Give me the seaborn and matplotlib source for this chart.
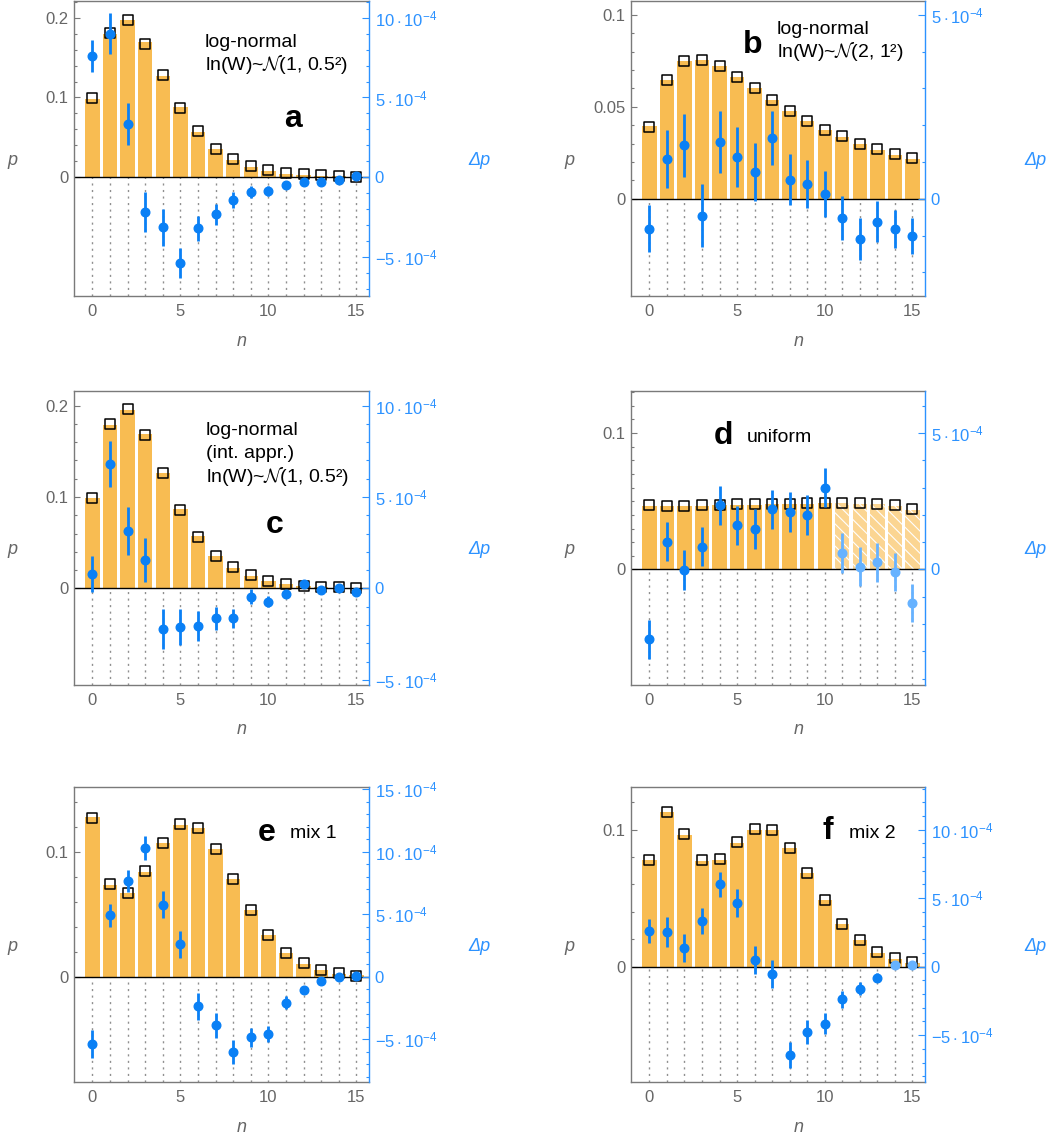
import numpy as np
import pandas as pd
import matplotlib
matplotlib.use("Agg")
import matplotlib.pyplot as plt
from matplotlib.ticker import FixedLocator, FuncFormatter, MultipleLocator
import seaborn as sns

# ---------------------------------------------------------------- data
n = np.arange(16)

# (a) log-normal ln(W) ~ N(1, 0.5^2)
p_a = [0.098, 0.180, 0.197, 0.169, 0.127, 0.0875, 0.0567, 0.035, 0.022, 0.013,
       0.008, 0.0046, 0.0025, 0.0017, 0.001, 0.0005]
model_a = [0.0996, 0.1808, 0.1975, 0.1675, 0.1283, 0.0867, 0.0579, 0.035, 0.0225,
           0.0142, 0.0088, 0.0054, 0.0038, 0.0025, 0.0017, 0.0004]
dp_a = [7.6, 9.0, 3.35, -2.17, -3.15, -5.4, -3.2, -2.33, -1.4, -0.92, -0.85,
        -0.5, -0.33, -0.33, -0.15, 0.08]
err_a = [1.0, 1.3, 1.3, 1.25, 1.15, 0.95, 0.77, 0.67, 0.5, 0.38, 0.3, 0.2,
         0.12, 0.1, 0.08, 0.06]

# (b) log-normal ln(W) ~ N(2, 1^2)
p_b = [0.0395, 0.0644, 0.0747, 0.0753, 0.0722, 0.0662, 0.060, 0.0535, 0.0476,
       0.0422, 0.0376, 0.0336, 0.030, 0.0267, 0.024, 0.0216]
model_b = [0.0391, 0.0644, 0.0747, 0.0756, 0.0725, 0.0665, 0.060, 0.0536, 0.0476,
           0.0422, 0.0376, 0.034, 0.030, 0.0271, 0.0244, 0.022]
dp_b = [-0.82, 1.08, 1.45, -0.46, 1.54, 1.14, 0.73, 1.65, 0.52, 0.4, 0.13,
        -0.53, -1.09, -0.62, -0.82, -1.01]
err_b = [0.64, 0.8, 0.86, 0.86, 0.85, 0.82, 0.78, 0.74, 0.7, 0.66, 0.63, 0.6,
         0.57, 0.55, 0.52, 0.5]

# (c) log-normal, integral approximation
p_c = [0.099, 0.1785, 0.1956, 0.169, 0.126, 0.087, 0.057, 0.0357, 0.0226, 0.0138,
       0.0084, 0.0047, 0.0026, 0.0018, 0.001, 0.0005]
model_c = [0.0991, 0.1796, 0.1967, 0.1683, 0.1268, 0.0863, 0.0565, 0.0357, 0.0237,
           0.0146, 0.0084, 0.0047, 0.0026, 0.0018, 0.0011, 0.0004]
dp_c = [0.78, 6.8, 3.15, 1.55, -2.2, -2.1, -2.05, -1.64, -1.64, -0.45, -0.73,
        -0.33, 0.27, -0.09, 0.05, -0.18]
err_c = [1.0, 1.27, 1.3, 1.22, 1.1, 1.0, 0.8, 0.65, 0.52, 0.4, 0.3, 0.2, 0.12,
         0.1, 0.08, 0.06]

# (d) uniform
p_d = [0.0468, 0.0465, 0.0466, 0.0468, 0.0471, 0.0473, 0.0474, 0.0477, 0.048,
       0.0482, 0.0486, 0.0484, 0.0483, 0.0479, 0.0467, 0.0439]
model_d = [0.0471, 0.0468, 0.0468, 0.0471, 0.0473, 0.0476, 0.0476, 0.048, 0.0483,
           0.0485, 0.049, 0.0488, 0.0488, 0.0483, 0.0471, 0.0444]
dp_d = [-2.56, 1.02, -0.02, 0.83, 2.35, 1.62, 1.48, 2.2, 2.11, 1.99, 2.99, 0.61,
        0.1, 0.26, -0.09, -1.24]
err_d = [0.72, 0.72, 0.72, 0.72, 0.72, 0.72, 0.72, 0.72, 0.72, 0.72, 0.71, 0.73,
         0.72, 0.72, 0.7, 0.7]

# (e) mix 1
p_e = [0.1277, 0.0736, 0.0669, 0.0837, 0.107, 0.1216, 0.119, 0.1024, 0.0779,
       0.0531, 0.0331, 0.0189, 0.0099, 0.0051, 0.0024, 0.001]
model_e = [0.1269, 0.0741, 0.0669, 0.0843, 0.1072, 0.1219, 0.1192, 0.1024, 0.0779,
           0.0533, 0.0333, 0.0192, 0.0107, 0.0056, 0.0029, 0.0008]
dp_e = [-5.41, 4.9, 7.65, 10.3, 5.76, 2.59, -2.35, -3.89, -6.03, -4.83, -4.61,
        -2.08, -1.09, -0.35, -0.03, 0.03]
err_e = [1.13, 0.9, 0.87, 0.96, 1.07, 1.1, 1.08, 1.0, 0.93, 0.76, 0.64, 0.5, 0.3,
         0.2, 0.1, 0.08]

# (f) mix 2
p_f = [0.0781, 0.1129, 0.0959, 0.0771, 0.0781, 0.0903, 0.1, 0.0995, 0.0869,
       0.0684, 0.0484, 0.0314, 0.0192, 0.01, 0.0056, 0.0029]
model_f = [0.0781, 0.1129, 0.0966, 0.0776, 0.0788, 0.0908, 0.1005, 0.0995, 0.0866,
           0.0684, 0.0484, 0.0314, 0.0192, 0.0105, 0.0063, 0.0034]
dp_f = [2.6, 2.53, 1.36, 3.33, 6.0, 4.65, 0.46, -0.56, -6.47, -4.77, -4.16,
        -2.38, -1.6, -0.8, 0.1, 0.1]
err_f = [0.89, 1.07, 1.0, 0.92, 0.92, 1.0, 1.03, 1.03, 0.95, 0.88, 0.76, 0.63,
         0.5, 0.3, 0.15, 0.1]

# ---------------------------------------------------------------- style
sns.set_style("white")
plt.rcParams["font.family"] = ["Liberation Sans", "DejaVu Sans"]
plt.rcParams["mathtext.fontset"] = "custom"
plt.rcParams["mathtext.rm"] = "Liberation Sans"
plt.rcParams["mathtext.it"] = "Liberation Sans:italic"
plt.rcParams["mathtext.bf"] = "Liberation Sans:bold"
plt.rcParams["hatch.color"] = "white"
plt.rcParams["hatch.linewidth"] = 0.8

ORANGE = "#F8BC52"
ORANGE_LIGHT = "#FBD592"
BLUE = "#0A80F5"
BLUE_LIGHT = "#66B2FF"
AXBLUE = "#2C92FF"
GREY = "#666666"
SPINE = "#7a7a7a"

W, H = 1049, 1139
fig = plt.figure(figsize=(W / 100, H / 100), dpi=100)


def fx(x):
    return x / W


def fy(y):
    return 1 - y / H


def dp_label(v, pos):
    if abs(v) < 1e-9:
        return "0"
    return r"$%d\cdot10^{-4}$" % int(round(v))


panels = [
    dict(key="a", rect=(74, 1, 295, 295), p=p_a, m=model_a, dp=dp_a, err=err_a,
         ylim=(-0.149, 0.221), k=50, lt=[0, 0.1, 0.2], lmin=0.02, rt=[-5, 0, 5, 10],
         light_pts=[], hatched=[]),
    dict(key="b", rect=(631, 1, 294, 295), p=p_b, m=model_b, dp=dp_b, err=err_b,
         ylim=(-0.0529, 0.1076), k=50, lt=[0, 0.05, 0.1], lmin=0.01, rt=[0, 5],
         light_pts=[], hatched=[]),
    dict(key="c", rect=(74, 391, 295, 294), p=p_c, m=model_c, dp=dp_c, err=err_c,
         ylim=(-0.1056, 0.216), k=50, lt=[0, 0.1, 0.2], lmin=0.02, rt=[-5, 0, 5, 10],
         light_pts=[], hatched=[]),
    dict(key="d", rect=(631, 391, 294, 294), p=p_d, m=model_d, dp=dp_d, err=err_d,
         ylim=(-0.0846, 0.1307), k=50, lt=[0, 0.1], lmin=0.01, rt=[0, 5],
         light_pts=[11, 12, 13, 14, 15], hatched=[11, 12, 13, 14, 15]),
    dict(key="e", rect=(74, 787, 295, 295), p=p_e, m=model_e, dp=dp_e, err=err_e,
         ylim=(-0.0843, 0.1517), k=100, lt=[0, 0.1], lmin=0.02, rt=[-5, 0, 5, 10, 15],
         light_pts=[], hatched=[]),
    dict(key="f", rect=(631, 787, 294, 295), p=p_f, m=model_f, dp=dp_f, err=err_f,
         ylim=(-0.0842, 0.1311), k=100, lt=[0, 0.1], lmin=0.02, rt=[-5, 0, 5, 10],
         light_pts=[14, 15], hatched=[]),
]

XLIM = (-1.05, 15.72)

for P in panels:
    l, t, w, h = P["rect"]
    ax = fig.add_axes([fx(l), fy(t + h), w / W, h / H])
    df = pd.DataFrame({"n": n, "p": P["p"], "model": P["m"], "dp": P["dp"], "err": P["err"]})
    hatched = df["n"].isin(P["hatched"])

    # histogram bars
    sns.barplot(data=df[~hatched], x="n", y="p", native_scale=True, width=0.82,
                color=ORANGE, saturation=1, edgecolor="none", linewidth=0, ax=ax, zorder=1)
    if hatched.any():
        sns.barplot(data=df[hatched], x="n", y="p", native_scale=True, width=0.82,
                    color=ORANGE_LIGHT, saturation=1, edgecolor="white", linewidth=0,
                    hatch="\\\\\\", ax=ax, zorder=1)

    y0, y1 = P["ylim"]
    # dotted guides below zero
    ax.vlines(n, y0, 0, colors="#8f8f8f", linestyles=(0, (1.5, 3.2)), linewidth=1.0, zorder=0)
    ax.axhline(0, color="black", linewidth=1.0, zorder=2)

    # model probabilities as open squares
    sns.scatterplot(data=df, x="n", y="model", marker="s", s=52, facecolors="none",
                    edgecolor="black", linewidth=1.1, ax=ax, zorder=3, legend=False)

    ax.set_xlim(*XLIM)
    ax.set_ylim(y0, y1)
    ax.set_xlabel("")
    ax.set_ylabel("")
    ax.xaxis.set_major_locator(FixedLocator([0, 5, 10, 15]))
    ax.xaxis.set_minor_locator(FixedLocator(list(range(16))))
    ax.yaxis.set_major_locator(FixedLocator(P["lt"]))
    minors = np.arange(0, y1 + 1e-9, P["lmin"])
    ax.yaxis.set_minor_locator(FixedLocator(minors))
    ax.yaxis.set_major_formatter(FuncFormatter(lambda v, pos: "0" if abs(v) < 1e-12 else ("%g" % v)))
    ax.tick_params(axis="both", which="both", direction="in", colors=SPINE,
                   labelcolor=GREY, labelsize=12, width=0.8)
    ax.tick_params(axis="both", which="major", length=4.5)
    ax.tick_params(axis="both", which="minor", length=2.5)
    ax.tick_params(axis="x", pad=6)
    ax.tick_params(axis="y", pad=4)
    for side in ("left", "bottom", "top"):
        ax.spines[side].set_color(SPINE)
        ax.spines[side].set_linewidth(1.0)
    ax.spines["right"].set_visible(False)

    # deviations on the twin axis
    ax2 = ax.twinx()
    k = P["k"]
    ax2.set_ylim(y0 * k, y1 * k)
    light = df["n"].isin(P["light_pts"])
    for mask, col in ((~light, BLUE), (light, BLUE_LIGHT)):
        sub = df[mask]
        if len(sub):
            ax2.errorbar(sub["n"], sub["dp"], yerr=sub["err"], fmt="o", ms=6.2,
                         color=col, ecolor=col, elinewidth=2.0, capsize=0, zorder=5)
    ax2.yaxis.set_major_locator(FixedLocator(P["rt"]))
    ax2.yaxis.set_minor_locator(MultipleLocator(1))
    ax2.yaxis.set_major_formatter(FuncFormatter(dp_label))
    ax2.tick_params(axis="y", which="both", direction="in", colors=AXBLUE,
                    labelcolor=AXBLUE, labelsize=12, width=0.8, pad=4)
    ax2.tick_params(axis="y", which="major", length=5)
    ax2.tick_params(axis="y", which="minor", length=2.5)
    for side in ("left", "bottom", "top"):
        ax2.spines[side].set_visible(False)
    ax2.spines["right"].set_color(AXBLUE)
    ax2.spines["right"].set_linewidth(1.0)
    ax2.set_xlim(*XLIM)

    # axis labels
    ymid = t + h * 0.54
    fig.text(fx(l - 62), fy(ymid), "p", fontsize=13, style="italic", color=GREY,
             ha="center", va="center")
    fig.text(fx(l + w + 110), fy(ymid), "Δp", fontsize=13, style="italic", color=AXBLUE,
             ha="center", va="center")
    fig.text(fx(l + 168), fy(t + h + 45), "n", fontsize=13, style="italic", color=GREY,
             ha="center", va="center")

# ---------------------------------------------------------------- annotations
LBL = dict(fontsize=23, fontweight="bold", color="black", ha="center", va="baseline")
TXT = dict(fontsize=14, color="black", ha="left", va="baseline")
LN_TEXT = "ln(W)~" + r"$\mathcal{N}$" + "(1, 0.5²)"

fig.text(fx(205), fy(47), "log-normal", **TXT)
fig.text(fx(205), fy(70), LN_TEXT, math_fontfamily="cm", **TXT)
fig.text(fx(293), fy(127), "a", **LBL)

fig.text(fx(753), fy(53), "b", **LBL)
fig.text(fx(777), fy(34), "log-normal", **TXT)
fig.text(fx(777), fy(57), "ln(W)~" + r"$\mathcal{N}$" + "(2, 1²)", math_fontfamily="cm", **TXT)

fig.text(fx(206), fy(435), "log-normal", **TXT)
fig.text(fx(206), fy(458), "(int. appr.)", **TXT)
fig.text(fx(206), fy(482), LN_TEXT, math_fontfamily="cm", **TXT)
fig.text(fx(275), fy(533), "c", **LBL)

fig.text(fx(723), fy(444), "d", **LBL)
fig.text(fx(747), fy(442), "uniform", **TXT)

fig.text(fx(267), fy(841), "e", **LBL)
fig.text(fx(290), fy(838), "mix 1", **TXT)

fig.text(fx(828), fy(839), "f", **LBL)
fig.text(fx(849), fy(838), "mix 2", **TXT)

fig.savefig("out.png", dpi=100)
